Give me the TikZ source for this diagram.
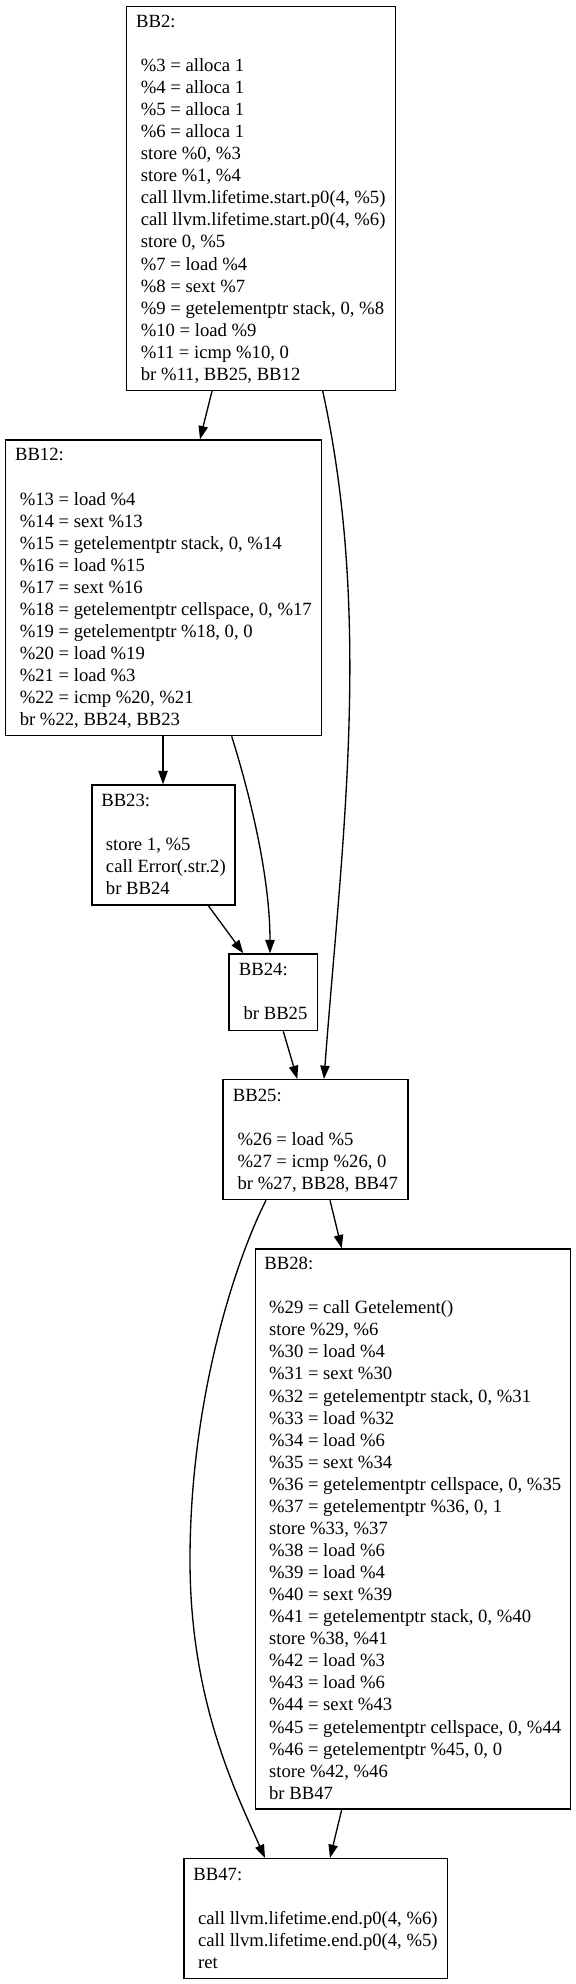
\documentclass[tikz,border=0pt]{standalone}
\usepackage{fontspec}
\setmainfont{Liberation Serif}
\usetikzlibrary{arrows.meta,calc}
\newcommand\vstr{\rule[-4.18pt]{0pt}{16.54pt}}
\begin{document}
\begin{tikzpicture}[x=0.75pt,y=-0.75pt,
  blk/.style={draw=black, line width=1pt, rectangle, anchor=north west, inner sep=0pt,
    align=left, font=\fontsize{14pt}{16.55pt}\selectfont},
  edge/.style={line width=1pt, -{Triangle[length=10pt,width=7pt]}}]
\useasboundingbox (0,0) rectangle (575,1984);

\node[blk, minimum width=268.7*0.75pt, minimum height=384*0.75pt] (bb2) at (125.8,5.7) {%
\vstr BB2:\\\vstr\\
\vstr\ \%3 = alloca 1\\
\vstr\ \%4 = alloca 1\\
\vstr\ \%5 = alloca 1\\
\vstr\ \%6 = alloca 1\\
\vstr\ store \%0, \%3\\
\vstr\ store \%1, \%4\\
\vstr\ call llvm.lifetime.start.p0(4, \%5)\\
\vstr\ call llvm.lifetime.start.p0(4, \%6)\\
\vstr\ store 0, \%5\\
\vstr\ \%7 = load \%4\\
\vstr\ \%8 = sext \%7\\
\vstr\ \%9 = getelementptr stack, 0, \%8\\
\vstr\ \%10 = load \%9\\
\vstr\ \%11 = icmp \%10, 0\\
\vstr\ br \%11, BB25, BB12};

\node[blk, minimum width=316.1*0.75pt, minimum height=295.7*0.75pt] (bb12) at (4.7,439.3) {%
\vstr BB12:\\\vstr\\
\vstr\ \%13 = load \%4\\
\vstr\ \%14 = sext \%13\\
\vstr\ \%15 = getelementptr stack, 0, \%14\\
\vstr\ \%16 = load \%15\\
\vstr\ \%17 = sext \%16\\
\vstr\ \%18 = getelementptr cellspace, 0, \%17\\
\vstr\ \%19 = getelementptr \%18, 0, 0\\
\vstr\ \%20 = load \%19\\
\vstr\ \%21 = load \%3\\
\vstr\ \%22 = icmp \%20, \%21\\
\vstr\ br \%22, BB24, BB23};

\node[blk, minimum width=143.1*0.75pt, minimum height=120*0.75pt] (bb23) at (91.3,784.3) {%
\vstr BB23:\\\vstr\\
\vstr\ store 1, \%5\\
\vstr\ call Error(.str.2)\\
\vstr\ br BB24};

\node[blk, minimum width=88.4*0.75pt, minimum height=76.7*0.75pt] (bb24) at (228.3,953.3) {%
\vstr BB24:\\\vstr\\
\vstr\ br BB25};

\node[blk, minimum width=185.1*0.75pt, minimum height=120*0.75pt] (bb25) at (222.2,1079) {%
\vstr BB25:\\\vstr\\
\vstr\ \%26 = load \%5\\
\vstr\ \%27 = icmp \%26, 0\\
\vstr\ br \%27, BB28, BB47};

\node[blk, minimum width=314.7*0.75pt, minimum height=560*0.75pt] (bb28) at (254.8,1248.3) {%
\vstr BB28:\\\vstr\\
\vstr\ \%29 = call Getelement()\\
\vstr\ store \%29, \%6\\
\vstr\ \%30 = load \%4\\
\vstr\ \%31 = sext \%30\\
\vstr\ \%32 = getelementptr stack, 0, \%31\\
\vstr\ \%33 = load \%32\\
\vstr\ \%34 = load \%6\\
\vstr\ \%35 = sext \%34\\
\vstr\ \%36 = getelementptr cellspace, 0, \%35\\
\vstr\ \%37 = getelementptr \%36, 0, 1\\
\vstr\ store \%33, \%37\\
\vstr\ \%38 = load \%6\\
\vstr\ \%39 = load \%4\\
\vstr\ \%40 = sext \%39\\
\vstr\ \%41 = getelementptr stack, 0, \%40\\
\vstr\ store \%38, \%41\\
\vstr\ \%42 = load \%3\\
\vstr\ \%43 = load \%6\\
\vstr\ \%44 = sext \%43\\
\vstr\ \%45 = getelementptr cellspace, 0, \%44\\
\vstr\ \%46 = getelementptr \%45, 0, 0\\
\vstr\ store \%42, \%46\\
\vstr\ br BB47};

\node[blk, minimum width=263.4*0.75pt, minimum height=120*0.75pt] (bb47) at (183.2,1858) {%
\vstr BB47:\\\vstr\\
\vstr\ call llvm.lifetime.end.p0(4, \%6)\\
\vstr\ call llvm.lifetime.end.p0(4, \%5)\\
\vstr\ ret};

% connectors
\draw[edge] ($(bb2.south west)+(86.2,0)$) -- ($(bb12.north west)+(195.3,0)$);
\draw[edge] ($(bb2.south west)+(196.9,0)$) .. controls +(50.3,229.3) and +(17,-229.3) .. ($(bb25.north west)+(101.8,0)$);
\draw[edge] ($(bb12.south west)+(158.3,0)$) -- ($(bb23.north west)+(71.7,0)$);
\draw[edge] ($(bb12.south west)+(227,0)$) .. controls +(20.3,65) and +(0,-73.3) .. ($(bb24.north west)+(41.7,0)$);
\draw[edge] ($(bb23.south west)+(117,0)$) -- ($(bb24.north west)+(15,0)$);
\draw[edge] ($(bb24.south west)+(55,0)$) -- ($(bb25.north west)+(75.1,0)$);
\draw[edge] ($(bb25.south west)+(107.8,0)$) -- ($(bb28.north west)+(86.9,0)$);
\draw[edge] ($(bb25.south west)+(43.8,0)$) .. controls +(-31,61) and +(0,-160) .. (190,1560)
  .. controls +(0,140) and +(-30,-67.5) .. ($(bb47.north west)+(81.8,0)$);
\draw[edge] ($(bb28.south west)+(86.9,0)$) -- ($(bb47.north west)+(146.8,0)$);
\end{tikzpicture}
\end{document}
